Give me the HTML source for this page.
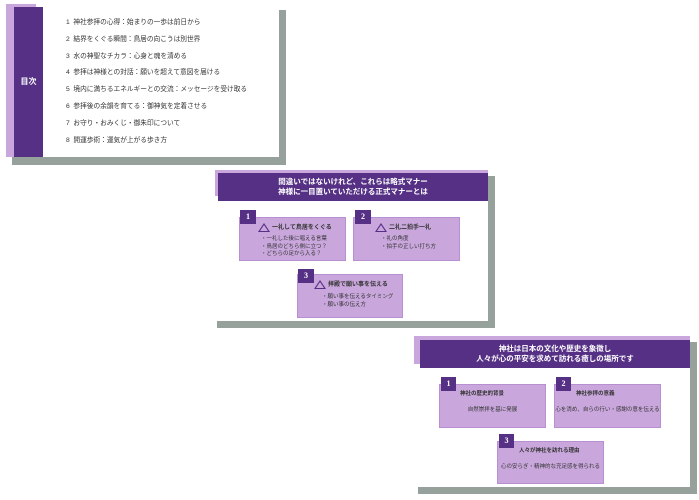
<!DOCTYPE html>
<html><head><meta charset="utf-8"><style>
body{margin:0;width:699px;height:500px;background:#fff;position:relative;overflow:hidden;font-family:"Liberation Sans","Noto Sans CJK JP",sans-serif}
.a{position:absolute;box-sizing:border-box}
.g{background:#97a19b}
.w{background:#fff}
.lp{background:#c9a7dc}
.dp{background:#553085;color:#fff}
.box{background:#c9a7dc;border:1px solid #b88fd0}
.bd{background:#553085;color:#fff;font-size:8px;font-weight:bold;text-align:center;line-height:14px;font-family:"Liberation Serif",serif}
.t{font-size:7px;color:#333;white-space:nowrap}
.hd{font-size:7.5px;text-align:center;line-height:10px;font-weight:bold;white-space:nowrap}
.tri{display:inline-block;width:0;height:0;border-left:6px solid transparent;border-right:6px solid transparent;border-bottom:9px solid #553085;position:relative;vertical-align:middle;margin-right:2px}
.tri:after{content:"";position:absolute;left:-4.5px;top:1.6px;border-left:4.5px solid transparent;border-right:4.5px solid transparent;border-bottom:6.8px solid #c9a7dc}
</style></head><body>
<!-- slide 1 -->
<div class="a g" style="left:12px;top:10px;width:274px;height:155px"></div>
<div class="a w" style="left:6px;top:5px;width:273px;height:152px"></div>
<div class="a lp" style="left:6px;top:4px;width:30px;height:153px"></div>
<div class="a dp" style="left:14px;top:7px;width:29px;height:150px;font-size:8px;font-weight:bold;text-align:center;line-height:150px">目次</div>
<div class="a t" style="left:66px;top:15px;line-height:16.8px;font-size:6.7px">
1&nbsp; 神社参拝の心得：始まりの一歩は前日から<br>
2&nbsp; 結界をくぐる瞬間：鳥居の向こうは別世界<br>
3&nbsp; 水の神聖なチカラ：心身と魂を清める<br>
4&nbsp; 参拝は神様との対話：願いを超えて意図を届ける<br>
5&nbsp; 境内に満ちるエネルギーとの交流：メッセージを受け取る<br>
6&nbsp; 参拝後の余韻を育てる：御神気を定着させる<br>
7&nbsp; お守り・おみくじ・御朱印について<br>
8&nbsp; 開運歩術：運気が上がる歩き方</div>
<!-- slide 2 -->
<div class="a g" style="left:217px;top:176px;width:278px;height:152px"></div>
<div class="a w" style="left:215px;top:171px;width:273px;height:150px"></div>
<div class="a lp" style="left:215px;top:170px;width:273px;height:26px"></div>
<div class="a dp" style="left:218px;top:173px;width:270px;height:28px"></div>
<div class="a hd" style="left:218px;top:177px;width:270px;color:#fff">間違いではないけれど、これらは略式マナー<br>神様に一目置いていただける正式マナーとは</div>
<div class="a box" style="left:239px;top:217px;width:107px;height:44px"></div>
<div class="a bd" style="left:240px;top:210px;width:16px;height:14px">1</div>
<div class="a t" style="left:258px;top:222px;font-size:6px;font-weight:bold"><span class="tri"></span>一礼して鳥居をくぐる</div>
<div class="a t" style="left:261px;top:236px;font-size:5.5px;line-height:7.5px">・一礼した後に唱える言葉<br>・鳥居のどちら側に立つ？<br>・どちらの足から入る？</div>
<div class="a box" style="left:353px;top:217px;width:107px;height:44px"></div>
<div class="a bd" style="left:355px;top:210px;width:16px;height:14px">2</div>
<div class="a t" style="left:375px;top:222px;font-size:6px;font-weight:bold"><span class="tri"></span>二礼二拍手一礼</div>
<div class="a t" style="left:381px;top:236px;font-size:5.5px;line-height:7.5px">・礼の角度<br>・拍手の正しい打ち方</div>
<div class="a box" style="left:297px;top:274px;width:106px;height:44px"></div>
<div class="a bd" style="left:298px;top:269px;width:16px;height:14px">3</div>
<div class="a t" style="left:314px;top:279px;font-size:6px;font-weight:bold"><span class="tri"></span>拝殿で願い事を伝える</div>
<div class="a t" style="left:322px;top:294px;font-size:5.5px;line-height:7.5px">・願い事を伝えるタイミング<br>・願い事の伝え方</div>
<!-- slide 3 -->
<div class="a g" style="left:418px;top:342px;width:279px;height:152px"></div>
<div class="a w" style="left:415px;top:337px;width:275px;height:150px"></div>
<div class="a lp" style="left:414px;top:336px;width:276px;height:28px"></div>
<div class="a dp" style="left:420px;top:340px;width:270px;height:28px"></div>
<div class="a hd" style="left:420px;top:344px;width:270px;color:#fff">神社は日本の文化や歴史を象徴し<br>人々が心の平安を求めて訪れる癒しの場所です</div>
<div class="a box" style="left:439px;top:384px;width:107px;height:44px"></div>
<div class="a bd" style="left:441px;top:377px;width:15px;height:14px">1</div>
<div class="a t" style="left:460px;top:389px;font-size:5.5px;font-weight:bold">神社の歴史的背景</div>
<div class="a t" style="left:439px;top:405px;width:107px;text-align:center;font-size:5.5px">自然崇拝を基に発展</div>
<div class="a box" style="left:554px;top:384px;width:107px;height:44px"></div>
<div class="a bd" style="left:556px;top:377px;width:15px;height:14px">2</div>
<div class="a t" style="left:576px;top:389px;font-size:5.5px;font-weight:bold">神社参拝の意義</div>
<div class="a t" style="left:554px;top:405px;width:107px;text-align:center;font-size:5.5px">心を清め、自らの行い・感謝の意を伝える</div>
<div class="a box" style="left:497px;top:441px;width:107px;height:43px"></div>
<div class="a bd" style="left:499px;top:434px;width:15px;height:14px">3</div>
<div class="a t" style="left:519px;top:446px;font-size:5.5px;font-weight:bold">人々が神社を訪れる理由</div>
<div class="a t" style="left:497px;top:462px;width:107px;text-align:center;font-size:5.5px">心の安らぎ・精神的な充足感を得られる</div>
</body></html>
